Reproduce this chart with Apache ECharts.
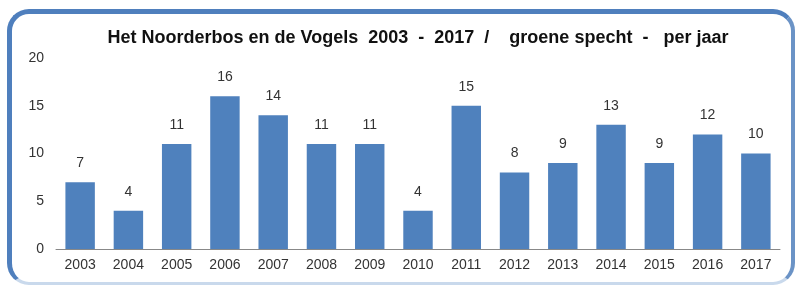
<!DOCTYPE html>
<html>
<head>
<meta charset="utf-8">
<script src="https://cdn.jsdelivr.net/npm/echarts@6/dist/echarts.min.js"></script>
<style>
  html, body { margin: 0; padding: 0; background: #fff; }
  #frame {
    position: absolute;
    left: 7px; top: 9px;
    width: 779px; height: 268px;
    border-left: 5px solid #4f7fbd;
    border-top: 5px solid #4f7fbd;
    border-right: 4px solid #6b93c6;
    border-bottom: 3px solid #c9d9ec;
    border-radius: 22px;
  }
  #chart { position: absolute; left: 0; top: 0; width: 797px; height: 286px; }
</style>
</head>
<body>
<div id="frame"></div>
<div id="chart"></div>
<script>
// groene specht - aantallen per jaar
const years = ["2003", "2004", "2005", "2006", "2007", "2008", "2009", "2010",
  "2011", "2012", "2013", "2014", "2015", "2016", "2017"];
const counts = [7, 4, 11, 16, 14, 11, 11, 4, 15, 8, 9, 13, 9, 12, 10];
const yTicks = [0, 5, 10, 15, 20];

const chart = echarts.init(document.getElementById("chart"));
chart.setOption({
  animation: false,
  title: {
    text: "Het Noorderbos en de Vogels  2003  -  2017  /    groene specht  -   per jaar",
    left: 413,
    textAlign: "center",
    top: 24,
    textStyle: {
      fontFamily: "Liberation Sans",
      fontSize: 18,
      fontWeight: "bold",
      color: "#111"
    }
  },
  grid: {
    left: 56,
    right: 17,
    top: 58,
    bottom: 37
  },
  xAxis: {
    type: "category",
    data: years,
    axisTick: { show: false },
    axisLine: { lineStyle: { color: "#888", width: 1 } },
    axisLabel: {
      fontFamily: "Liberation Sans",
      fontSize: 14,
      color: "#333",
      margin: 9
    }
  },
  yAxis: {
    type: "value",
    min: yTicks[0],
    max: yTicks[yTicks.length - 1],
    interval: 5,
    axisLine: { show: false },
    axisTick: { show: false },
    splitLine: { show: false },
    axisLabel: {
      fontFamily: "Liberation Sans",
      fontSize: 14,
      color: "#333",
      margin: 12
    }
  },
  series: [
    {
      type: "bar",
      data: counts,
      barWidth: "61%",
      itemStyle: { color: "#4f81bd" },
      label: {
        show: true,
        position: "top",
        distance: 12,
        fontFamily: "Liberation Sans",
        fontSize: 14,
        color: "#333"
      }
    }
  ]
});
</script>
</body>
</html>
